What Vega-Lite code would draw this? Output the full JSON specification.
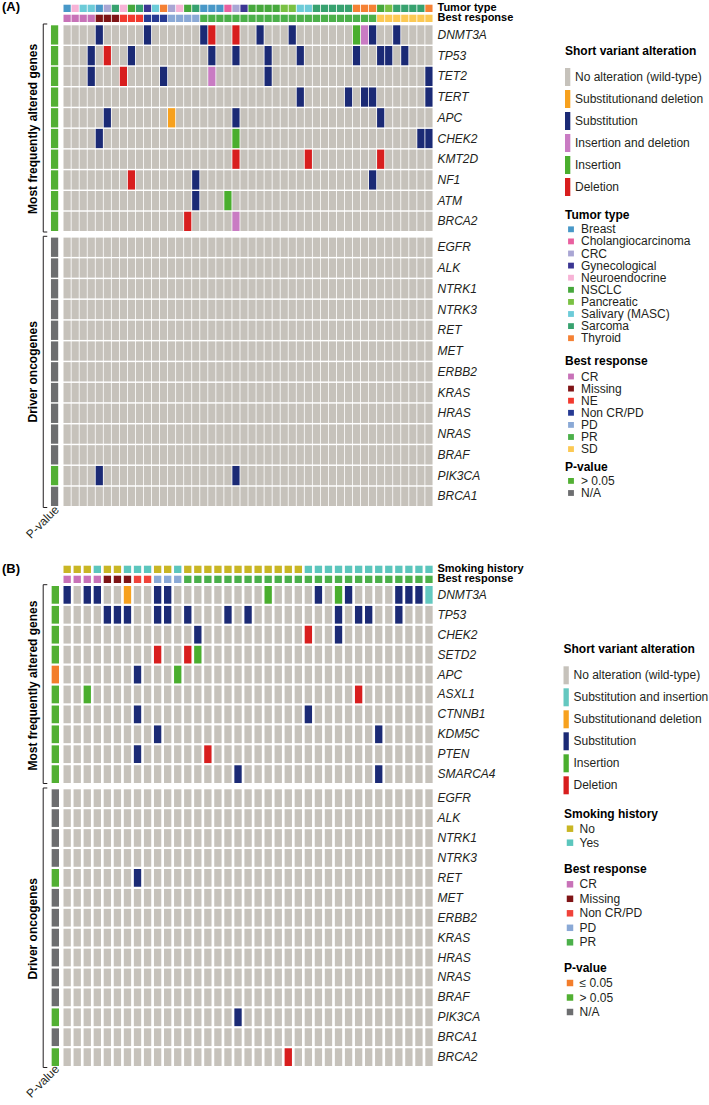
{
  "$schema": "https://vega.github.io/schema/vega-lite/v6.json",
  "padding": {"left": 2, "top": 1, "right": 0, "bottom": 0},
  "bounds": "flush",
  "spacing": 1,
  "datasets": {
    "annotA": [
      {"c":"0","tumor":"Breast","resp":"CR"},
      {"c":"1","tumor":"Neuroendocrine","resp":"CR"},
      {"c":"2","tumor":"Salivary (MASC)","resp":"CR"},
      {"c":"3","tumor":"Salivary (MASC)","resp":"CR"},
      {"c":"4","tumor":"Breast","resp":"Missing"},
      {"c":"5","tumor":"CRC","resp":"Missing"},
      {"c":"6","tumor":"Sarcoma","resp":"Missing"},
      {"c":"7","tumor":"Neuroendocrine","resp":"NE"},
      {"c":"8","tumor":"NSCLC","resp":"NE"},
      {"c":"9","tumor":"Sarcoma","resp":"NE"},
      {"c":"10","tumor":"Gynecological","resp":"Non CR/PD"},
      {"c":"11","tumor":"Salivary (MASC)","resp":"Non CR/PD"},
      {"c":"12","tumor":"Thyroid","resp":"Non CR/PD"},
      {"c":"13","tumor":"CRC","resp":"PD"},
      {"c":"14","tumor":"Neuroendocrine","resp":"PD"},
      {"c":"15","tumor":"NSCLC","resp":"PD"},
      {"c":"16","tumor":"Sarcoma","resp":"PD"},
      {"c":"17","tumor":"Breast","resp":"PR"},
      {"c":"18","tumor":"Breast","resp":"PR"},
      {"c":"19","tumor":"Breast","resp":"PR"},
      {"c":"20","tumor":"Cholangiocarcinoma","resp":"PR"},
      {"c":"21","tumor":"CRC","resp":"PR"},
      {"c":"22","tumor":"Gynecological","resp":"PR"},
      {"c":"23","tumor":"NSCLC","resp":"PR"},
      {"c":"24","tumor":"NSCLC","resp":"PR"},
      {"c":"25","tumor":"NSCLC","resp":"PR"},
      {"c":"26","tumor":"NSCLC","resp":"PR"},
      {"c":"27","tumor":"Pancreatic","resp":"PR"},
      {"c":"28","tumor":"Pancreatic","resp":"PR"},
      {"c":"29","tumor":"Salivary (MASC)","resp":"PR"},
      {"c":"30","tumor":"Salivary (MASC)","resp":"PR"},
      {"c":"31","tumor":"Sarcoma","resp":"PR"},
      {"c":"32","tumor":"Sarcoma","resp":"PR"},
      {"c":"33","tumor":"Sarcoma","resp":"PR"},
      {"c":"34","tumor":"Sarcoma","resp":"PR"},
      {"c":"35","tumor":"Sarcoma","resp":"PR"},
      {"c":"36","tumor":"Thyroid","resp":"PR"},
      {"c":"37","tumor":"Thyroid","resp":"PR"},
      {"c":"38","tumor":"Thyroid","resp":"PR"},
      {"c":"39","tumor":"NSCLC","resp":"SD"},
      {"c":"40","tumor":"Pancreatic","resp":"SD"},
      {"c":"41","tumor":"Sarcoma","resp":"SD"},
      {"c":"42","tumor":"Sarcoma","resp":"SD"},
      {"c":"43","tumor":"Sarcoma","resp":"SD"},
      {"c":"44","tumor":"Sarcoma","resp":"SD"},
      {"c":"45","tumor":"Thyroid","resp":"SD"}
    ],
    "genesA1": [
      {"g":"DNMT3A","p":"> 0.05","4":"Substitution","10":"Substitution","17":"Substitution","18":"Deletion","21":"Deletion","24":"Substitution","28":"Substitution","36":"Insertion","37":"Insertion and deletion","38":"Substitution","41":"Substitution"},
      {"g":"TP53","p":"> 0.05","3":"Substitution","5":"Deletion","8":"Substitution","18":"Substitution","21":"Substitution","25":"Substitution","29":"Substitution","36":"Substitution","39":"Substitution","40":"Substitution","42":"Substitution"},
      {"g":"TET2","p":"> 0.05","3":"Substitution","7":"Deletion","12":"Substitution","18":"Insertion and deletion","25":"Substitution","45":"Substitution"},
      {"g":"TERT","p":"> 0.05","29":"Substitution","35":"Substitution","37":"Substitution","38":"Substitution","45":"Substitution"},
      {"g":"APC","p":"> 0.05","5":"Substitution","13":"Substitutionand deletion","21":"Substitution","39":"Substitution"},
      {"g":"CHEK2","p":"> 0.05","4":"Substitution","21":"Insertion","44":"Substitution","45":"Substitution"},
      {"g":"KMT2D","p":"> 0.05","21":"Deletion","30":"Deletion","39":"Deletion"},
      {"g":"NF1","p":"> 0.05","8":"Deletion","16":"Substitution","38":"Substitution"},
      {"g":"ATM","p":"> 0.05","16":"Substitution","20":"Insertion"},
      {"g":"BRCA2","p":"> 0.05","15":"Deletion","21":"Insertion and deletion"}
    ],
    "genesA2": [
      {"g":"EGFR","p":"N/A"},
      {"g":"ALK","p":"N/A"},
      {"g":"NTRK1","p":"N/A"},
      {"g":"NTRK3","p":"N/A"},
      {"g":"RET","p":"N/A"},
      {"g":"MET","p":"N/A"},
      {"g":"ERBB2","p":"N/A"},
      {"g":"KRAS","p":"N/A"},
      {"g":"HRAS","p":"N/A"},
      {"g":"NRAS","p":"N/A"},
      {"g":"BRAF","p":"N/A"},
      {"g":"PIK3CA","p":"> 0.05","4":"Substitution","21":"Substitution"},
      {"g":"BRCA1","p":"N/A"}
    ],
    "annotB": [
      {"c":"0","smoke":"No","resp":"CR"},
      {"c":"1","smoke":"No","resp":"CR"},
      {"c":"2","smoke":"No","resp":"CR"},
      {"c":"3","smoke":"Yes","resp":"CR"},
      {"c":"4","smoke":"No","resp":"Missing"},
      {"c":"5","smoke":"No","resp":"Missing"},
      {"c":"6","smoke":"Yes","resp":"Missing"},
      {"c":"7","smoke":"Yes","resp":"Non CR/PD"},
      {"c":"8","smoke":"Yes","resp":"Non CR/PD"},
      {"c":"9","smoke":"No","resp":"PD"},
      {"c":"10","smoke":"No","resp":"PD"},
      {"c":"11","smoke":"Yes","resp":"PD"},
      {"c":"12","smoke":"No","resp":"PR"},
      {"c":"13","smoke":"No","resp":"PR"},
      {"c":"14","smoke":"No","resp":"PR"},
      {"c":"15","smoke":"No","resp":"PR"},
      {"c":"16","smoke":"No","resp":"PR"},
      {"c":"17","smoke":"No","resp":"PR"},
      {"c":"18","smoke":"No","resp":"PR"},
      {"c":"19","smoke":"No","resp":"PR"},
      {"c":"20","smoke":"No","resp":"PR"},
      {"c":"21","smoke":"No","resp":"PR"},
      {"c":"22","smoke":"No","resp":"PR"},
      {"c":"23","smoke":"No","resp":"PR"},
      {"c":"24","smoke":"Yes","resp":"PR"},
      {"c":"25","smoke":"Yes","resp":"PR"},
      {"c":"26","smoke":"Yes","resp":"PR"},
      {"c":"27","smoke":"Yes","resp":"PR"},
      {"c":"28","smoke":"Yes","resp":"PR"},
      {"c":"29","smoke":"Yes","resp":"PR"},
      {"c":"30","smoke":"Yes","resp":"PR"},
      {"c":"31","smoke":"Yes","resp":"PR"},
      {"c":"32","smoke":"Yes","resp":"PR"},
      {"c":"33","smoke":"Yes","resp":"PR"},
      {"c":"34","smoke":"Yes","resp":"PR"},
      {"c":"35","smoke":"Yes","resp":"PR"},
      {"c":"36","smoke":"Yes","resp":"PR"}
    ],
    "genesB1": [
      {"g":"DNMT3A","p":"> 0.05","0":"Substitution","2":"Substitution","3":"Substitution","6":"Substitutionand deletion","9":"Substitution","10":"Substitution","20":"Insertion","25":"Substitution","27":"Insertion","28":"Substitution","33":"Substitution","34":"Substitution","35":"Substitution","36":"Substitution and insertion"},
      {"g":"TP53","p":"> 0.05","4":"Substitution","5":"Substitution","6":"Substitution","9":"Substitution","10":"Substitution","12":"Substitution","16":"Substitution","18":"Substitution","27":"Substitution","29":"Substitution","30":"Substitution","33":"Substitution"},
      {"g":"CHEK2","p":"> 0.05","13":"Substitution","24":"Deletion","27":"Substitution"},
      {"g":"SETD2","p":"> 0.05","9":"Deletion","12":"Deletion","13":"Insertion"},
      {"g":"APC","p":"≤ 0.05","7":"Substitution","11":"Insertion"},
      {"g":"ASXL1","p":"> 0.05","2":"Insertion","29":"Deletion"},
      {"g":"CTNNB1","p":"> 0.05","7":"Substitution","24":"Substitution"},
      {"g":"KDM5C","p":"> 0.05","9":"Substitution","31":"Substitution"},
      {"g":"PTEN","p":"> 0.05","7":"Substitution","14":"Deletion"},
      {"g":"SMARCA4","p":"> 0.05","17":"Substitution","31":"Substitution"}
    ],
    "genesB2": [
      {"g":"EGFR","p":"N/A"},
      {"g":"ALK","p":"N/A"},
      {"g":"NTRK1","p":"N/A"},
      {"g":"NTRK3","p":"N/A"},
      {"g":"RET","p":"> 0.05","7":"Substitution"},
      {"g":"MET","p":"N/A"},
      {"g":"ERBB2","p":"N/A"},
      {"g":"KRAS","p":"N/A"},
      {"g":"HRAS","p":"N/A"},
      {"g":"NRAS","p":"N/A"},
      {"g":"BRAF","p":"N/A"},
      {"g":"PIK3CA","p":"> 0.05","17":"Substitution"},
      {"g":"BRCA1","p":"N/A"},
      {"g":"BRCA2","p":"> 0.05","22":"Deletion"}
    ]
  },
  "vconcat": [
    {
      "width": 382,
      "height": 19,
      "data": {"name": "annotA"},
      "layer": [
        {
          "mark": {"type": "rect"},
          "encoding": {
            "x": {"field": "c", "type": "nominal", "axis": null,
              "scale": {"domain": ["pv","0","1","2","3","4","5","6","7","8","9","10","11","12","13","14","15","16","17","18","19","20","21","22","23","24","25","26","27","28","29","30","31","32","33","34","35","36","37","38","39","40","41","42","43","44","45"], "paddingInner": 0.1, "paddingOuter": 0.306}},
            "y": {"datum": "Tumor type", "type": "nominal",
              "scale": {"domain": ["Tumor type", "Best response"], "paddingInner": 0.27, "paddingOuter": 0.085, "align": 1},
              "axis": {"orient": "right", "domain": false, "ticks": false, "title": null, "labelPadding": 2, "labelFontWeight": "bold", "labelFontSize": 11, "labelColor": "#000000"}},
            "color": {"field": "tumor", "type": "nominal", "title": "Tumor type",
              "scale": {"domain": ["Breast","Cholangiocarcinoma","CRC","Gynecological","Neuroendocrine","NSCLC","Pancreatic","Salivary (MASC)","Sarcoma","Thyroid"],
                        "range": ["#4898c8","#e9609f","#a9a6d4","#3b3693","#f7b3d6","#46a83c","#7ac143","#6ccbd8","#37a26f","#f58134"]},
              "legend": {"legendX": 512, "legendY": 207, "symbolType": "square", "symbolSize": 34, "labelOffset": 4, "titlePadding": 1.3, "rowPadding": 0.1}}
          }
        },
        {
          "mark": {"type": "rect"},
          "encoding": {
            "x": {"field": "c", "type": "nominal"},
            "y": {"datum": "Best response", "type": "nominal"},
            "color": {"field": "resp", "type": "nominal", "title": "Best response",
              "scale": {"domain": ["CR","Missing","NE","Non CR/PD","PD","PR","SD"],
                        "range": ["#c872b8","#7f1416","#f23a2f","#263a93","#8aa9d6","#4bb04a","#fcc954"]},
              "legend": {"legendX": 512, "legendY": 353.2, "symbolType": "square", "symbolSize": 34, "labelOffset": 4, "titlePadding": 2.3, "rowPadding": 0.1}}
          }
        },
        {
          "data": {"values": [{"t": "(A)"}]},
          "mark": {"type": "text", "align": "left", "baseline": "middle", "fontWeight": "bold", "fontSize": 13, "xOffset": -53.46, "yOffset": -1, "color": "#000000"},
          "encoding": {
            "x": {"datum": "pv", "bandPosition": 0},
            "y": {"datum": "Tumor type", "bandPosition": 0.5},
            "text": {"field": "t"}
          }
        }
      ],
      "resolve": {"scale": {"color": "independent"}, "legend": {"color": "independent"}}
    },
    {
      "width": 382,
      "height": 208,
      "data": {"name": "genesA1"},
      "layer": [
        {
          "transform": [{"fold": ["0","1","2","3","4","5","6","7","8","9","10","11","12","13","14","15","16","17","18","19","20","21","22","23","24","25","26","27","28","29","30","31","32","33","34","35","36","37","38","39","40","41","42","43","44","45"], "as": ["c", "alt"]}],
          "mark": {"type": "rect"},
          "encoding": {
            "x": {"field": "c", "type": "nominal", "axis": null,
              "scale": {"domain": ["pv","0","1","2","3","4","5","6","7","8","9","10","11","12","13","14","15","16","17","18","19","20","21","22","23","24","25","26","27","28","29","30","31","32","33","34","35","36","37","38","39","40","41","42","43","44","45"], "paddingInner": 0.1, "paddingOuter": 0.306}},
            "y": {"field": "g", "type": "nominal",
              "scale": {"domain": ["DNMT3A","TP53","TET2","TERT","APC","CHEK2","KMT2D","NF1","ATM","BRCA2"], "paddingInner": 0.07, "paddingOuter": 0.0555, "align": 1},
              "axis": {"orient": "right", "domain": false, "ticks": false, "title": null, "labelPadding": 2, "labelFontStyle": "italic", "labelFontSize": 12, "labelColor": "#231f20"}},
            "color": {"condition": {"test": "!isValid(datum.alt)", "value": "#c6c2bb"},
              "field": "alt", "type": "nominal", "title": "Short variant alteration",
              "scale": {"domain": ["No alteration (wild-type)","Substitutionand deletion","Substitution","Insertion and deletion","Insertion","Deletion"],
                        "range": ["#c6c2bb","#f7a11e","#1b2a75","#c97bc3","#4aae2e","#d81e1e"]},
              "legend": {"legendX": 512, "legendY": 23, "symbolType": "M-1,-1L-0.41,-1L-0.41,1L-1,1Z", "symbolSize": 324, "labelOffset": -8, "titlePadding": 10, "rowPadding": 4.0}}
          }
        },
        {
          "mark": {"type": "rect", "xOffset": -4.5},
          "encoding": {
            "x": {"datum": "pv"},
            "y": {"field": "g", "type": "nominal"},
            "color": {"field": "p", "type": "nominal", "title": "P-value",
              "scale": {"domain": ["> 0.05","N/A"], "range": ["#52b033","#6d6e70"]},
              "legend": {"legendX": 512, "legendY": 438.6, "symbolType": "square", "symbolSize": 34, "labelOffset": 4, "titlePadding": 1.3, "rowPadding": 0.1}}
          }
        },
        {
          "data": {"values": [{}]},
          "mark": {"type": "rule", "color": "#231f20", "strokeWidth": 1, "xOffset": -12.2, "yOffset": -1.3, "y2Offset": 1},
          "encoding": {
            "x": {"datum": "pv", "bandPosition": 0},
            "y": {"datum": "DNMT3A", "bandPosition": 0},
            "y2": {"datum": "BRCA2", "bandPosition": 1}
          }
        },
        {
          "data": {"values": [{}]},
          "mark": {"type": "rule", "color": "#231f20", "strokeWidth": 1, "xOffset": -12.2, "x2Offset": -8.2, "yOffset": -1.3},
          "encoding": {
            "x": {"datum": "pv", "bandPosition": 0},
            "x2": {"datum": "pv", "bandPosition": 0},
            "y": {"datum": "DNMT3A", "bandPosition": 0}
          }
        },
        {
          "data": {"values": [{}]},
          "mark": {"type": "rule", "color": "#231f20", "strokeWidth": 1, "xOffset": -12.2, "x2Offset": -8.2, "yOffset": 1},
          "encoding": {
            "x": {"datum": "pv", "bandPosition": 0},
            "x2": {"datum": "pv", "bandPosition": 0},
            "y": {"datum": "BRCA2", "bandPosition": 1}
          }
        },
        {
          "data": {"values": [{"t": "Most frequently altered genes"}]},
          "mark": {"type": "text", "angle": 270, "align": "center", "baseline": "middle", "fontWeight": "bold", "fontSize": 12, "xOffset": -22.5, "color": "#000000"},
          "encoding": {
            "x": {"datum": "pv", "bandPosition": 0},
            "y": {"datum": "CHEK2", "bandPosition": 0},
            "text": {"field": "t"}
          }
        }
      ],
      "resolve": {"scale": {"color": "independent"}, "legend": {"color": "independent"}}
    },
    {
      "width": 382,
      "height": 274,
      "data": {"name": "genesA2"},
      "layer": [
        {
          "transform": [{"fold": ["0","1","2","3","4","5","6","7","8","9","10","11","12","13","14","15","16","17","18","19","20","21","22","23","24","25","26","27","28","29","30","31","32","33","34","35","36","37","38","39","40","41","42","43","44","45"], "as": ["c", "alt"]}],
          "mark": {"type": "rect"},
          "encoding": {
            "x": {"field": "c", "type": "nominal", "axis": null,
              "scale": {"domain": ["pv","0","1","2","3","4","5","6","7","8","9","10","11","12","13","14","15","16","17","18","19","20","21","22","23","24","25","26","27","28","29","30","31","32","33","34","35","36","37","38","39","40","41","42","43","44","45"], "paddingInner": 0.1, "paddingOuter": 0.306}},
            "y": {"field": "g", "type": "nominal",
              "scale": {"domain": ["EGFR","ALK","NTRK1","NTRK3","RET","MET","ERBB2","KRAS","HRAS","NRAS","BRAF","PIK3CA","BRCA1"], "paddingInner": 0.07, "paddingOuter": 0.1349, "align": 1},
              "axis": {"orient": "right", "domain": false, "ticks": false, "title": null, "labelPadding": 2, "labelFontStyle": "italic", "labelFontSize": 12, "labelColor": "#231f20"}},
            "color": {"condition": {"test": "!isValid(datum.alt)", "value": "#c6c2bb"},
              "field": "alt", "type": "nominal",
              "scale": {"domain": ["No alteration (wild-type)","Substitutionand deletion","Substitution","Insertion and deletion","Insertion","Deletion"],
                        "range": ["#c6c2bb","#f7a11e","#1b2a75","#c97bc3","#4aae2e","#d81e1e"]},
              "legend": null}
          }
        },
        {
          "mark": {"type": "rect", "xOffset": -4.5},
          "encoding": {
            "x": {"datum": "pv"},
            "y": {"field": "g", "type": "nominal"},
            "color": {"field": "p", "type": "nominal",
              "scale": {"domain": ["> 0.05","N/A"], "range": ["#52b033","#6d6e70"]},
              "legend": null}
          }
        },
        {
          "data": {"values": [{}]},
          "mark": {"type": "rule", "color": "#231f20", "strokeWidth": 1, "xOffset": -12.2, "yOffset": -1.3, "y2Offset": 1.5},
          "encoding": {
            "x": {"datum": "pv", "bandPosition": 0},
            "y": {"datum": "EGFR", "bandPosition": 0},
            "y2": {"datum": "BRCA1", "bandPosition": 1}
          }
        },
        {
          "data": {"values": [{}]},
          "mark": {"type": "rule", "color": "#231f20", "strokeWidth": 1, "xOffset": -12.2, "x2Offset": -8.2, "yOffset": -1.3},
          "encoding": {
            "x": {"datum": "pv", "bandPosition": 0},
            "x2": {"datum": "pv", "bandPosition": 0},
            "y": {"datum": "EGFR", "bandPosition": 0}
          }
        },
        {
          "data": {"values": [{}]},
          "mark": {"type": "rule", "color": "#231f20", "strokeWidth": 1, "xOffset": -12.2, "x2Offset": -8.2, "yOffset": 1.5},
          "encoding": {
            "x": {"datum": "pv", "bandPosition": 0},
            "x2": {"datum": "pv", "bandPosition": 0},
            "y": {"datum": "BRCA1", "bandPosition": 1}
          }
        },
        {
          "data": {"values": [{"t": "Driver oncogenes"}]},
          "mark": {"type": "text", "angle": 270, "align": "center", "baseline": "middle", "fontWeight": "bold", "fontSize": 12, "xOffset": -22.5, "color": "#000000"},
          "encoding": {
            "x": {"datum": "pv", "bandPosition": 0},
            "y": {"datum": "ERBB2", "bandPosition": 0.5},
            "text": {"field": "t"}
          }
        },
        {
          "data": {"values": [{"t": "P-value"}]},
          "mark": {"type": "text", "angle": 315, "align": "right", "baseline": "middle", "fontSize": 12, "xOffset": -2.1, "yOffset": 1.6, "color": "#231f20"},
          "encoding": {
            "x": {"datum": "pv", "bandPosition": 0.5},
            "y": {"datum": "BRCA1", "bandPosition": 1},
            "text": {"field": "t"}
          }
        }
      ],
      "resolve": {"scale": {"color": "independent"}, "legend": {"color": "independent"}}
    },
    {
      "width": 380,
      "height": 56,
      "data": {"values": [{}]},
      "mark": {"type": "text", "text": ""},
      "encoding": {}
    },
    {
      "width": 380.1,
      "height": 19,
      "data": {"name": "annotB"},
      "layer": [
        {
          "mark": {"type": "rect"},
          "encoding": {
            "x": {"field": "c", "type": "nominal", "axis": null,
              "scale": {"domain": ["pv","0","1","2","3","4","5","6","7","8","9","10","11","12","13","14","15","16","17","18","19","20","21","22","23","24","25","26","27","28","29","30","31","32","33","34","35","36"], "paddingInner": 0.27, "paddingOuter": 0.045}},
            "y": {"datum": "Smoking history", "type": "nominal",
              "scale": {"domain": ["Smoking history", "Best response"], "paddingInner": 0.27, "paddingOuter": 0.085, "align": 1},
              "axis": {"orient": "right", "domain": false, "ticks": false, "title": null, "labelPadding": 3.9, "labelFontWeight": "bold", "labelFontSize": 11, "labelColor": "#000000"}},
            "color": {"field": "smoke", "type": "nominal", "title": "Smoking history",
              "scale": {"domain": ["No","Yes"], "range": ["#c9b624","#5cc6bd"]},
              "legend": {"legendX": 511, "legendY": 244.7, "symbolType": "square", "symbolSize": 42, "labelOffset": 3.5, "titlePadding": 2, "rowPadding": 2}}
          }
        },
        {
          "mark": {"type": "rect"},
          "encoding": {
            "x": {"field": "c", "type": "nominal"},
            "y": {"datum": "Best response", "type": "nominal"},
            "color": {"field": "resp", "type": "nominal", "title": "Best response",
              "scale": {"domain": ["CR","Missing","Non CR/PD","PD","PR"],
                        "range": ["#c872b8","#7f1416","#f0433a","#8aa9d6","#4bb04a"]},
              "legend": {"legendX": 511, "legendY": 300.3, "symbolType": "square", "symbolSize": 42, "labelOffset": 3.5, "titlePadding": 2, "rowPadding": 2.5}}
          }
        },
        {
          "data": {"values": [{"t": "(B)"}]},
          "mark": {"type": "text", "align": "left", "baseline": "middle", "fontWeight": "bold", "fontSize": 13, "xOffset": -51.45, "yOffset": 0, "color": "#000000"},
          "encoding": {
            "x": {"datum": "pv", "bandPosition": 0},
            "y": {"datum": "Smoking history", "bandPosition": 0.5},
            "text": {"field": "t"}
          }
        }
      ],
      "resolve": {"scale": {"color": "independent"}, "legend": {"color": "independent"}}
    },
    {
      "width": 380.1,
      "height": 199,
      "data": {"name": "genesB1"},
      "layer": [
        {
          "transform": [{"fold": ["0","1","2","3","4","5","6","7","8","9","10","11","12","13","14","15","16","17","18","19","20","21","22","23","24","25","26","27","28","29","30","31","32","33","34","35","36"], "as": ["c", "alt"]}],
          "mark": {"type": "rect"},
          "encoding": {
            "x": {"field": "c", "type": "nominal", "axis": null,
              "scale": {"domain": ["pv","0","1","2","3","4","5","6","7","8","9","10","11","12","13","14","15","16","17","18","19","20","21","22","23","24","25","26","27","28","29","30","31","32","33","34","35","36"], "paddingInner": 0.27, "paddingOuter": 0.045}},
            "y": {"field": "g", "type": "nominal",
              "scale": {"domain": ["DNMT3A","TP53","CHEK2","SETD2","APC","ASXL1","CTNNB1","KDM5C","PTEN","SMARCA4"], "paddingInner": 0.11, "paddingOuter": 0.0502, "align": 1},
              "axis": {"orient": "right", "domain": false, "ticks": false, "title": null, "labelPadding": 3.9, "labelFontStyle": "italic", "labelFontSize": 12, "labelColor": "#231f20"}},
            "color": {"condition": {"test": "!isValid(datum.alt)", "value": "#c6c2bb"},
              "field": "alt", "type": "nominal", "title": "Short variant alteration",
              "scale": {"domain": ["No alteration (wild-type)","Substitution and insertion","Substitutionand deletion","Substitution","Insertion","Deletion"],
                        "range": ["#c6c2bb","#64c8c0","#f7a11e","#1b2a75","#4aae2e","#d81e1e"]},
              "legend": {"legendX": 510.5, "legendY": 59.7, "symbolType": "M-1,-1L-0.41,-1L-0.41,1L-1,1Z", "symbolSize": 324, "labelOffset": -8, "titlePadding": 10.6, "rowPadding": 4}}
          }
        },
        {
          "mark": {"type": "rect", "xOffset": -1.8},
          "encoding": {
            "x": {"datum": "pv"},
            "y": {"field": "g", "type": "nominal"},
            "color": {"field": "p", "type": "nominal", "title": "P-value",
              "scale": {"domain": ["≤ 0.05","> 0.05","N/A"], "range": ["#f37d2b","#52b033","#6d6e70"]},
              "legend": {"legendX": 511, "legendY": 379, "symbolType": "square", "symbolSize": 42, "labelOffset": 3.5, "titlePadding": 2, "rowPadding": 2.5}}
          }
        },
        {
          "data": {"values": [{}]},
          "mark": {"type": "rule", "color": "#231f20", "strokeWidth": 1, "xOffset": -10.25, "yOffset": -1.3, "y2Offset": 0.5},
          "encoding": {
            "x": {"datum": "pv", "bandPosition": 0},
            "y": {"datum": "DNMT3A", "bandPosition": 0},
            "y2": {"datum": "SMARCA4", "bandPosition": 1}
          }
        },
        {
          "data": {"values": [{}]},
          "mark": {"type": "rule", "color": "#231f20", "strokeWidth": 1, "xOffset": -10.25, "x2Offset": -6.15, "yOffset": -1.3},
          "encoding": {
            "x": {"datum": "pv", "bandPosition": 0},
            "x2": {"datum": "pv", "bandPosition": 0},
            "y": {"datum": "DNMT3A", "bandPosition": 0}
          }
        },
        {
          "data": {"values": [{}]},
          "mark": {"type": "rule", "color": "#231f20", "strokeWidth": 1, "xOffset": -10.25, "x2Offset": -6.15, "yOffset": 0.5},
          "encoding": {
            "x": {"datum": "pv", "bandPosition": 0},
            "x2": {"datum": "pv", "bandPosition": 0},
            "y": {"datum": "SMARCA4", "bandPosition": 1}
          }
        },
        {
          "data": {"values": [{"t": "Most frequently altered genes"}]},
          "mark": {"type": "text", "angle": 270, "align": "center", "baseline": "middle", "fontWeight": "bold", "fontSize": 12, "xOffset": -20.5, "color": "#000000"},
          "encoding": {
            "x": {"datum": "pv", "bandPosition": 0},
            "y": {"datum": "ASXL1", "bandPosition": 0},
            "text": {"field": "t"}
          }
        }
      ],
      "resolve": {"scale": {"color": "independent"}, "legend": {"color": "independent"}}
    },
    {
      "width": 380.1,
      "height": 282,
      "data": {"name": "genesB2"},
      "layer": [
        {
          "transform": [{"fold": ["0","1","2","3","4","5","6","7","8","9","10","11","12","13","14","15","16","17","18","19","20","21","22","23","24","25","26","27","28","29","30","31","32","33","34","35","36"], "as": ["c", "alt"]}],
          "mark": {"type": "rect"},
          "encoding": {
            "x": {"field": "c", "type": "nominal", "axis": null,
              "scale": {"domain": ["pv","0","1","2","3","4","5","6","7","8","9","10","11","12","13","14","15","16","17","18","19","20","21","22","23","24","25","26","27","28","29","30","31","32","33","34","35","36"], "paddingInner": 0.27, "paddingOuter": 0.045}},
            "y": {"field": "g", "type": "nominal",
              "scale": {"domain": ["EGFR","ALK","NTRK1","NTRK3","RET","MET","ERBB2","KRAS","HRAS","NRAS","BRAF","PIK3CA","BRCA1","BRCA2"], "paddingInner": 0.11, "paddingOuter": 0.133, "align": 1},
              "axis": {"orient": "right", "domain": false, "ticks": false, "title": null, "labelPadding": 3.9, "labelFontStyle": "italic", "labelFontSize": 12, "labelColor": "#231f20"}},
            "color": {"condition": {"test": "!isValid(datum.alt)", "value": "#c6c2bb"},
              "field": "alt", "type": "nominal",
              "scale": {"domain": ["No alteration (wild-type)","Substitution and insertion","Substitutionand deletion","Substitution","Insertion","Deletion"],
                        "range": ["#c6c2bb","#64c8c0","#f7a11e","#1b2a75","#4aae2e","#d81e1e"]},
              "legend": null}
          }
        },
        {
          "mark": {"type": "rect", "xOffset": -1.8},
          "encoding": {
            "x": {"datum": "pv"},
            "y": {"field": "g", "type": "nominal"},
            "color": {"field": "p", "type": "nominal",
              "scale": {"domain": ["≤ 0.05","> 0.05","N/A"], "range": ["#f37d2b","#52b033","#6d6e70"]},
              "legend": null}
          }
        },
        {
          "data": {"values": [{}]},
          "mark": {"type": "rule", "color": "#231f20", "strokeWidth": 1, "xOffset": -10.25, "yOffset": -1.3, "y2Offset": 1.5},
          "encoding": {
            "x": {"datum": "pv", "bandPosition": 0},
            "y": {"datum": "EGFR", "bandPosition": 0},
            "y2": {"datum": "BRCA2", "bandPosition": 1}
          }
        },
        {
          "data": {"values": [{}]},
          "mark": {"type": "rule", "color": "#231f20", "strokeWidth": 1, "xOffset": -10.25, "x2Offset": -6.15, "yOffset": -1.3},
          "encoding": {
            "x": {"datum": "pv", "bandPosition": 0},
            "x2": {"datum": "pv", "bandPosition": 0},
            "y": {"datum": "EGFR", "bandPosition": 0}
          }
        },
        {
          "data": {"values": [{}]},
          "mark": {"type": "rule", "color": "#231f20", "strokeWidth": 1, "xOffset": -10.25, "x2Offset": -6.15, "yOffset": 1.5},
          "encoding": {
            "x": {"datum": "pv", "bandPosition": 0},
            "x2": {"datum": "pv", "bandPosition": 0},
            "y": {"datum": "BRCA2", "bandPosition": 1}
          }
        },
        {
          "data": {"values": [{"t": "Driver oncogenes"}]},
          "mark": {"type": "text", "angle": 270, "align": "center", "baseline": "middle", "fontWeight": "bold", "fontSize": 12, "xOffset": -20.5, "color": "#000000"},
          "encoding": {
            "x": {"datum": "pv", "bandPosition": 0},
            "y": {"datum": "KRAS", "bandPosition": 0},
            "text": {"field": "t"}
          }
        },
        {
          "data": {"values": [{"t": "P-value"}]},
          "mark": {"type": "text", "angle": 315, "align": "right", "baseline": "middle", "fontSize": 12, "xOffset": 0, "yOffset": 1, "color": "#231f20"},
          "encoding": {
            "x": {"datum": "pv", "bandPosition": 0.5},
            "y": {"datum": "BRCA2", "bandPosition": 1},
            "text": {"field": "t"}
          }
        }
      ],
      "resolve": {"scale": {"color": "independent"}, "legend": {"color": "independent"}}
    }
  ],
  "resolve": {"scale": {"color": "independent"}, "legend": {"color": "independent"}},
  "config": {
    "view": {"stroke": null},
    "font": "Liberation Sans",
    "axis": {"labelFont": "Liberation Sans"},
    "text": {"font": "Liberation Sans"},
    "legend": {
      "orient": "none", "direction": "vertical", "padding": 0,
      "titleFont": "Liberation Sans", "titleFontSize": 12, "titleFontWeight": "bold", "titleColor": "#000000",
      "labelFont": "Liberation Sans", "labelFontSize": 12, "labelColor": "#231f20",
      "symbolStrokeWidth": 0, "symbolOpacity": 1, "labelLimit": 400, "titleLimit": 400
    }
  }
}
